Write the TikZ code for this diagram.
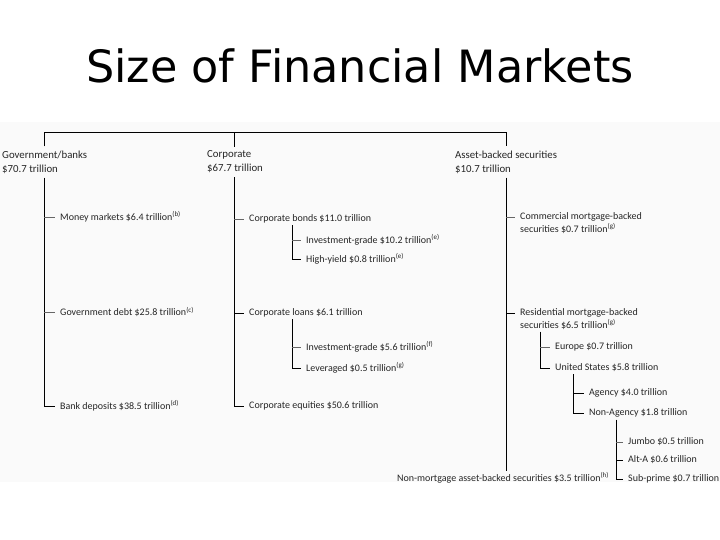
\documentclass[tikz,border=0pt]{standalone}
\usepackage{fontspec}
\setmainfont{Carlito}
\newfontfamily\titlefont{DejaVu Sans}
\newcommand\mysup[1]{\textsuperscript{(#1)}}
\begin{document}
\begin{tikzpicture}[x=1pt,y=-1pt,
  lab/.style={anchor=west, inner xsep=5pt, inner ysep=2pt, text=black!85,
              font=\fontsize{10}{13}\selectfont, align=left},
  head/.style={lab, inner xsep=0pt, inner ysep=4pt, font=\fontsize{10.8}{14}\selectfont},
  ln/.style={line width=0.9pt, black},
  tk/.style={line width=0.7pt, black!60}]
\useasboundingbox (0,0) rectangle (720,540);
\fill[white] (0,0) rectangle (720,540);
\fill[black!2] (0,122) rectangle (720,482);
\node[font=\titlefont\fontsize{44.5}{50}\selectfont, inner sep=0pt, anchor=base] (title) at (360,83) {Size of Financial Markets};

% headers
\node[head] (gov) at (2,162) {Government/banks\\\$70.7 trillion};
\node[head] (corp) at (207,162) {Corporate\\\$67.7 trillion};
\node[head] (abs) at (455,162) {Asset-backed securities\\\$10.7 trillion};
\coordinate (xg) at (44,132);
\coordinate (xc) at (234,132);
\coordinate (xa) at (506,132);

% government
\node[lab] (mm) at (55,217) {Money markets \$6.4 trillion\mysup{b}};
\node[lab] (gd) at (55,312) {Government debt \$25.8 trillion\mysup{c}};
\node[lab] (bd) at (55,406) {Bank deposits \$38.5 trillion\mysup{d}};

% corporate
\node[lab] (cb) at (244,219) {Corporate bonds \$11.0 trillion};
\coordinate (xcb) at (292,0);
\node[lab] (cbi) at (301,240) {Investment-grade \$10.2 trillion\mysup{e}};
\node[lab] (cbh) at (301,259) {High-yield \$0.8 trillion\mysup{e}};
\node[lab] (cl) at (244,313) {Corporate loans \$6.1 trillion};
\node[lab] (cli) at (301,347) {Investment-grade \$5.6 trillion\mysup{f}};
\node[lab] (cll) at (301,368) {Leveraged \$0.5 trillion\mysup{g}};
\node[lab] (ce) at (244,406) {Corporate equities \$50.6 trillion};

% asset-backed
\node[lab] (cm) at (515,223) {Commercial mortgage-backed\\securities \$0.7 trillion\mysup{g}};
\node[lab] (rm) at (515,319) {Residential mortgage-backed\\securities \$6.5 trillion\mysup{g}};
\coordinate (cmt) at ([yshift=6pt]cm.west);
\coordinate (rmt) at ([yshift=6pt]rm.west);
\coordinate (xrm) at (540,0);
\node[lab] (eu) at (550,347) {Europe \$0.7 trillion};
\node[lab] (us) at (550,368) {United States \$5.8 trillion};
\coordinate (xus) at (573,0);
\node[lab] (ag) at (584,393) {Agency \$4.0 trillion};
\node[lab] (na) at (584,413) {Non-Agency \$1.8 trillion};
\coordinate (xna) at (616,0);
\node[lab] (ju) at (623,442) {Jumbo \$0.5 trillion};
\node[lab] (aa) at (623,460) {Alt-A \$0.6 trillion};
\node[lab] (sp) at (623,479) {Sub-prime \$0.7 trillion};
\node[lab, inner xsep=0pt] (nm) at (397,478) {Non-mortgage asset-backed securities \$3.5 trillion\mysup{h}};

% connectors: top
\draw[ln] (gov.north -| xg) -- (xg) -- (xa) -- (abs.north -| xa);
\draw[ln] (corp.north -| xc) -- (xc);

% government
\draw[ln] (gov.south -| xg) -- (bd.west -| xg) -- (bd.west);
\draw[tk] (mm.west -| xg) -- (mm.west);
\draw[tk] (gd.west -| xg) -- (gd.west);

% corporate
\draw[ln] (corp.south -| xc) -- (ce.west -| xc) -- (ce.west);
\draw[tk] (cb.west -| xc) -- (cb.west);
\draw[ln] (cl.west -| xc) -- (cl.west);
\draw[ln] (cb.south -| xcb) -- (cbh.west -| xcb) -- (cbh.west);
\draw[tk] (cbi.west -| xcb) -- (cbi.west);
\draw[ln] (cl.south -| xcb) -- (cll.west -| xcb) -- (cll.west);
\draw[tk] (cli.west -| xcb) -- (cli.west);

% asset-backed
\draw[ln] (abs.south -| xa) -- (nm.north -| xa);
\draw[tk] (cmt -| xa) -- (cmt);
\draw[ln] (rmt -| xa) -- (rmt);
\draw[ln] (rm.south -| xrm) -- (us.west -| xrm) -- (us.west);
\draw[tk] (eu.west -| xrm) -- (eu.west);
\draw[ln] (us.south -| xus) -- (na.west -| xus) -- (na.west);
\draw[ln] (ag.west -| xus) -- (ag.west);
\draw[ln] (na.south -| xna) -- (sp.west -| xna) -- (sp.west);
\draw[tk] (ju.west -| xna) -- (ju.west);
\draw[ln] (aa.west -| xna) -- (aa.west);
\end{tikzpicture}
\end{document}
